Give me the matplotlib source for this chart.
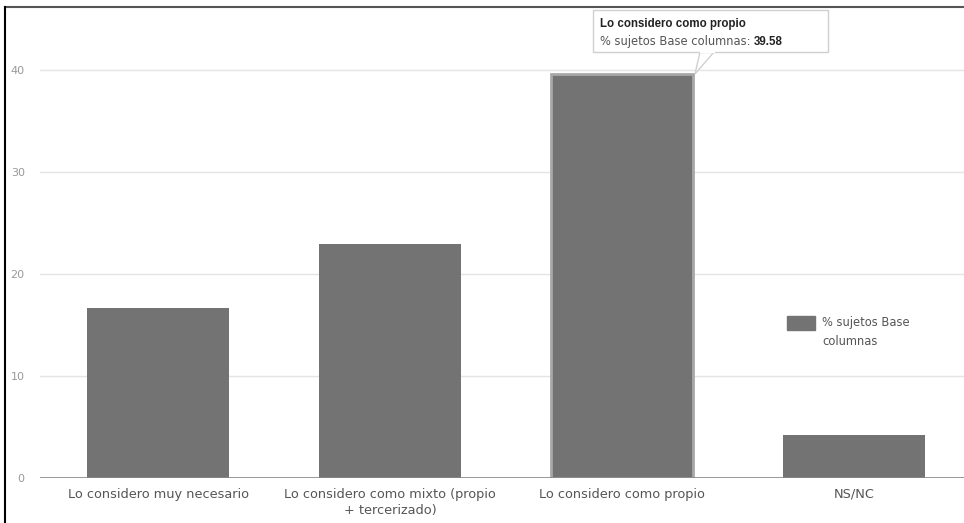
import matplotlib.pyplot as plt
from matplotlib.patches import FancyBboxPatch, Polygon, Rectangle
from matplotlib.lines import Line2D

plt.rcParams['font.family'] = ['DejaVu Sans']

categories = ['Lo considero muy necesario',
              'Lo considero como mixto (propio\n+ tercerizado)',
              'Lo considero como propio',
              'NS/NC']
values = [16.67, 22.92, 39.58, 4.17]
series_name = '% sujetos Base\ncolumnas'
yticks = [0, 10, 20, 30, 40]

bar_color = '#737373'
text_color = '#555555'

W, H = 964, 523
fig = plt.figure(figsize=(W / 100, H / 100), dpi=100)
ax = fig.add_axes([40 / W, 45 / H, 1 - 40 / W, (478 - 27) / H])

x = range(len(categories))
bars = ax.bar(x, values, width=0.61, color=bar_color, zorder=3)
# highlighted (hovered) column
bars[2].set_edgecolor('#a8a8a8')
bars[2].set_linewidth(2)

ax.set_xlim(-0.509, 3.474)
ax.set_ylim(0, 44.2)
ax.set_yticks(yticks)
ax.set_xticks(list(x))
ax.set_xticklabels(categories, fontsize=9.3, color=text_color, linespacing=1.35)
ax.tick_params(axis='y', labelsize=8, labelcolor='#999999', length=0, pad=11)
ax.tick_params(axis='x', length=0, pad=7)
ax.grid(axis='y', color='#e4e4e4', linewidth=1, zorder=0)
for s in ax.spines.values():
    s.set_visible(False)
ax.axhline(0, color='#888888', linewidth=1.2, zorder=4)

# legend
fig.add_artist(Rectangle((787 / W, 1 - 330 / H), 28 / W, 14 / H,
                         transform=fig.transFigure, color=bar_color))
fig.text(822 / W, 1 - 332 / H, series_name, fontsize=8.3, color=text_color,
         va='center', ha='left', linespacing=1.55)

# tooltip for the hovered column
tip = FancyBboxPatch((593 / W, 1 - 52 / H), 235 / W, 42 / H,
                     boxstyle='square,pad=0', transform=fig.transFigure,
                     facecolor='white', edgecolor='#d0d0d0', linewidth=1, zorder=10)
fig.add_artist(tip)
fig.add_artist(Polygon([(700 / W, 1 - 52 / H), (714 / W, 1 - 52 / H), (695 / W, 1 - 74 / H)],
                       closed=True, transform=fig.transFigure, facecolor='white',
                       edgecolor='#d0d0d0', linewidth=1, zorder=9))
fig.add_artist(Line2D([700.5 / W, 713.5 / W], [1 - 52 / H, 1 - 52 / H],
                      transform=fig.transFigure, color='white', linewidth=1.5, zorder=11))
fig.text(600 / W, 1 - 24 / H, categories[2], fontsize=8.3, fontweight='bold',
         family='Liberation Sans', color='#222222', va='center', zorder=12)
t1 = fig.text(600 / W, 1 - 42 / H, '% sujetos Base columnas: ', fontsize=8.3,
              color=text_color, va='center', zorder=12)
fig.canvas.draw()
bb = t1.get_window_extent()
fig.text(bb.x1 / W, 1 - 42 / H, f'{values[2]:.2f}', fontsize=8.3, fontweight='bold',
         family='Liberation Sans', color='#222222', va='center', zorder=12)

# page frame lines
fig.add_artist(Line2D([5 / W, 1], [1 - 7 / H, 1 - 7 / H], transform=fig.transFigure,
                      color='#555555', linewidth=1.5))
fig.add_artist(Line2D([5 / W, 5 / W], [0, 1 - 7 / H], transform=fig.transFigure,
                      color='black', linewidth=1.5))

fig.savefig('out.png', dpi=100)
